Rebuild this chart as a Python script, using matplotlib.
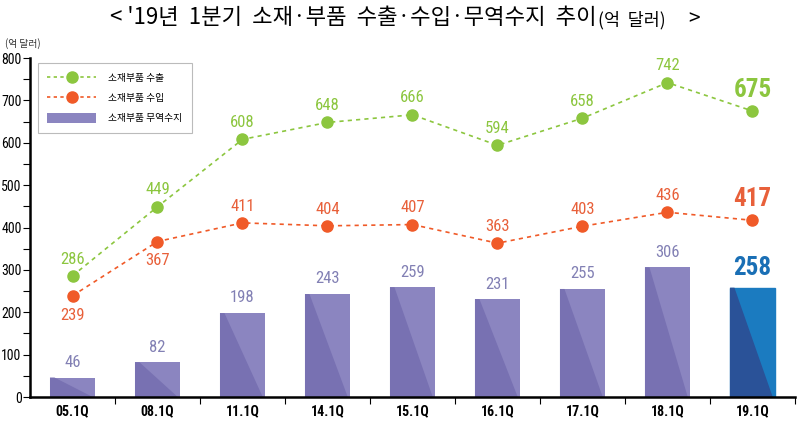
import matplotlib.pyplot as plt
from matplotlib.patches import Polygon, Patch
from matplotlib.lines import Line2D

plt.rcParams['font.family'] = ['Noto Sans CJK KR', 'DejaVu Sans']

분기 = ['05.1Q', '08.1Q', '11.1Q', '14.1Q', '15.1Q', '16.1Q', '17.1Q', '18.1Q', '19.1Q']
수출 = [286, 449, 608, 648, 666, 594, 658, 742, 675]
수입 = [239, 367, 411, 404, 407, 363, 403, 436, 417]
무역수지 = [46, 82, 198, 243, 259, 231, 255, 306, 258]

green = '#8cc63f'
red = '#f05a28'
red_txt = '#e8603a'
bar_light = '#8b85c0'
bar_dark = '#7871b2'
blue_light = '#1b7bc0'
blue_dark = '#2a5298'
num_font = 'Roboto Condensed'

fig = plt.figure(figsize=(7.98, 4.22), dpi=100)
ax = fig.add_axes([0.0376, 0.0592, 0.9586, 0.8033])

x = list(range(len(분기)))
w = 0.53
bars = ax.bar(x, 무역수지, width=w, color=bar_light, zorder=2)
bars[-1].set_color(blue_light)

# 막대 안의 어두운 삼각형
for i, b in enumerate(bars):
    x0 = b.get_x()
    h = b.get_height()
    c = blue_dark if i == len(bars) - 1 else bar_dark
    tri = Polygon([(x0, h), (x0 + 0.1 * w, h), (x0 + 0.95 * w, 0), (x0, 0)],
                  closed=True, color=c, lw=0, zorder=2.5)
    ax.add_patch(tri)

ax.plot(x, 수출, ls=(0, (2.5, 2.5)), lw=1.2, color=green, marker='o', ms=8,
        zorder=3)
ax.plot(x, 수입, ls=(0, (2.5, 2.5)), lw=1.2, color=red, marker='o', ms=8,
        zorder=3)

# 값 라벨
for i in x:
    last = i == len(x) - 1
    fs = 18 if last else 12
    fw = 'bold' if last else 'normal'
    ax.text(i, 수출[i] + 22, str(수출[i]), ha='center', va='bottom', color=green,
            fontsize=fs, fontweight=fw, family=num_font)
    if i < 2:
        ax.text(i, 수입[i] - 28, str(수입[i]), ha='center', va='top', color=red_txt,
                fontsize=fs, fontweight=fw, family=num_font)
    else:
        ax.text(i, 수입[i] + 22, str(수입[i]), ha='center', va='bottom', color=red_txt,
                fontsize=fs, fontweight=fw, family=num_font)
    ax.text(i, 무역수지[i] + 18, str(무역수지[i]), ha='center', va='bottom',
            color='#1a6fb5' if last else '#8280b4', fontsize=fs, fontweight=fw,
            family=num_font)

ax.set_xlim(-0.5, 8.5)
ax.set_ylim(0, 800)
ax.set_yticks(range(0, 801, 100))
ax.set_yticks(range(50, 800, 100), minor=True)
ax.set_xticks(x)
ax.set_xticklabels(분기, family=num_font, fontsize=10, fontweight='bold')
ax.set_xticks([i + 0.5 for i in x], minor=True)
ax.tick_params(axis='x', which='major', length=0, pad=5)
ax.tick_params(axis='x', which='minor', length=5, width=0.8, direction='out')
ax.tick_params(axis='y', which='both', length=5, width=0.8, direction='out',
               labelsize=10, pad=1)
for lab in ax.get_yticklabels():
    lab.set_family(num_font)
for s in ['top', 'right']:
    ax.spines[s].set_visible(False)
ax.spines['left'].set_linewidth(1.8)
ax.spines['bottom'].set_linewidth(1.8)

# 범례
handles = [
    Line2D([], [], ls=(0, (2, 2)), lw=1.2, color=green, marker='o', ms=8),
    Line2D([], [], ls=(0, (2, 2)), lw=1.2, color=red, marker='o', ms=8),
    Patch(facecolor=bar_light, edgecolor='none'),
]
leg = ax.legend(handles, ['소재부품 수출', '소재부품 수입', '소재부품 무역수지'],
                loc='upper left', bbox_to_anchor=(0.01, 0.985), fontsize=7,
                frameon=True, fancybox=False, handlelength=5, handleheight=1.2,
                handletextpad=1.2, borderpad=1.0, labelspacing=1.0, borderaxespad=0)
leg.get_frame().set_edgecolor('#aaaaaa')
leg.get_frame().set_linewidth(0.8)

fig.text(0.006, 0.898, '(억 달러)', fontsize=7, ha='left', va='center', color='#333333')
fig.text(0.748, 0.958, "< '19년  1분기  소재·부품  수출·수입·무역수지  추이", fontsize=16,
         ha='right', va='center', fontweight='light')
fig.text(0.749, 0.952, '(억  달러)', fontsize=12.5, ha='left', va='center',
         fontweight='light')
fig.text(0.862, 0.955, '>', fontsize=15, ha='left', va='center', fontweight='light')

fig.savefig('out.png', dpi=100)
